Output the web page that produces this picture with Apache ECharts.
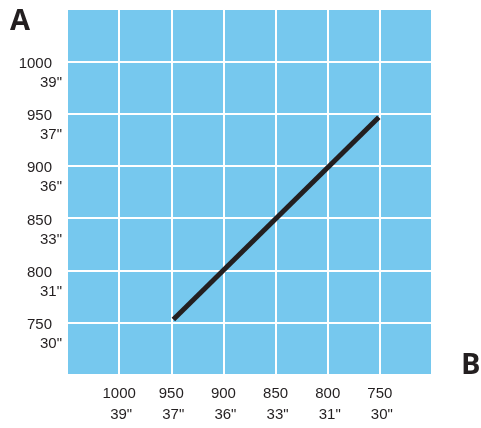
<!DOCTYPE html>
<html>
<head>
<meta charset="utf-8">
<script src="https://cdn.jsdelivr.net/npm/echarts@6/dist/echarts.min.js"></script>
<style>html,body{margin:0;padding:0;background:#fff;}#c{width:481px;height:428px;}</style>
</head>
<body>
<div id="c"></div>
<script>
// Tick values and their labels (mm and inches)
const tickValues = [1000, 950, 900, 850, 800, 750];
const inchLabels = ['39"', '37"', '36"', '33"', '31"', '30"'];
// Line series (A value on x, B value on y)
const lineX = [948, 751];
const lineY = [753, 946.5];

function labelFor(v) {
  const i = tickValues.indexOf(v);
  if (i < 0) return '';
  return '{a|' + v + '}\n{b|' + inchLabels[i] + '}';
}

const chart = echarts.init(document.getElementById('c'), null, {renderer: 'canvas'});
const txt = '#231f20';
chart.setOption({
  animation: false,
  grid: {left: 67, top: 9, width: 365, height: 366, show: true, backgroundColor: '#76c8ee', borderWidth: 0, containLabel: false},
  xAxis: {
    type: 'value', inverse: true, min: 700, max: 1050, interval: 50,
    axisLine: {show: false}, axisTick: {show: false},
    splitLine: {show: true, lineStyle: {color: '#ffffff', width: 2}},
    axisLabel: {
      margin: 8, formatter: labelFor, color: txt,
      rich: {
        a: {fontFamily: 'Liberation Sans', fontSize: 15, lineHeight: 21.5, color: txt},
        b: {fontFamily: 'Liberation Sans', fontSize: 15, lineHeight: 21.5, color: txt, padding: [0, 0, 0, 4]}
      }
    }
  },
  yAxis: {
    type: 'value', min: 700, max: 1050, interval: 50,
    axisLine: {show: false}, axisTick: {show: false},
    splitLine: {show: true, lineStyle: {color: '#ffffff', width: 2}},
    axisLabel: {
      margin: 5, formatter: labelFor, color: txt, padding: [24, 0, 0, 0],
      rich: {
        a: {fontFamily: 'Liberation Sans', fontSize: 15, lineHeight: 19, color: txt, padding: [0, 10, 0, 0]},
        b: {fontFamily: 'Liberation Sans', fontSize: 15, lineHeight: 19, color: txt}
      }
    }
  },
  series: [{
    type: 'line',
    data: lineX.map((x, i) => [x, lineY[i]]),
    symbol: 'none',
    lineStyle: {color: '#231f20', width: 5, cap: 'butt'}
  }],
  graphic: [
    {type: 'text', left: 10, top: 7, style: {text: 'A', font: 'bold 29px "Open Sans"', fill: txt}},
    {type: 'text', left: 461, top: 351, style: {text: 'B', font: 'bold 29px "Open Sans"', fill: txt}}
  ]
});
</script>
</body>
</html>
